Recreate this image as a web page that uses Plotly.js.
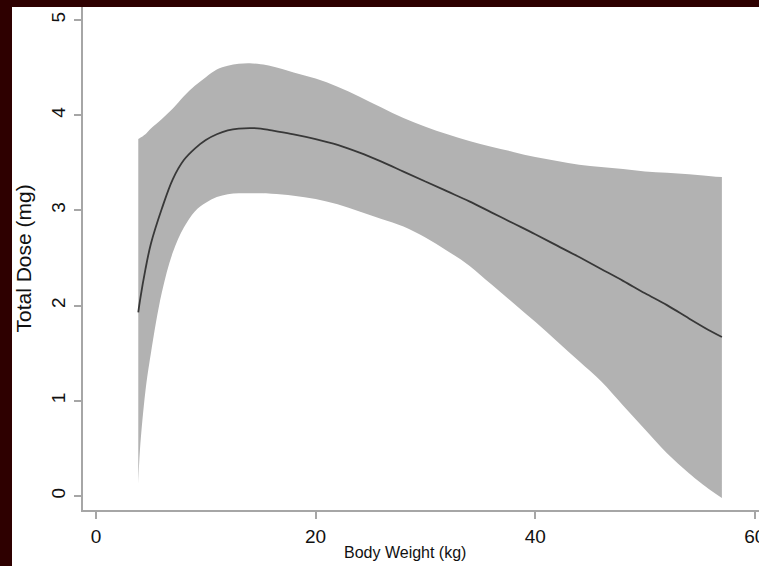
<!DOCTYPE html>
<html>
<head>
<meta charset="utf-8">
<script src="https://cdn.plot.ly/plotly-3.0.1.min.js"></script>
<style>
  html, body { margin: 0; padding: 0; background: #2e0000; width: 759px; height: 566px; overflow: hidden; }
  #chart { position: absolute; left: 12px; top: 7px; width: 747px; height: 559px; background: #ffffff; }
</style>
</head>
<body>
<div id="chart"></div>
<script>
// Body weight (kg)
const weight = [3.85, 4, 4.5, 5, 6, 7, 8, 9, 10, 11, 12, 13, 14, 15, 16, 18, 20, 22, 24, 26, 28, 30, 32, 34, 36, 38, 40, 42, 44, 46, 48, 50, 52, 54, 56, 57];
// Fitted total dose (mg)
const fitted = [1.93, 2.05, 2.38, 2.65, 3.02, 3.33, 3.53, 3.65, 3.74, 3.80, 3.84, 3.86, 3.865, 3.86, 3.84, 3.80, 3.75, 3.689, 3.607, 3.512, 3.408, 3.304, 3.20, 3.095, 2.98, 2.865, 2.75, 2.63, 2.51, 2.385, 2.26, 2.13, 2.005, 1.865, 1.73, 1.67];
// Upper confidence bound
const upper = [3.75, 3.76, 3.80, 3.86, 3.96, 4.07, 4.20, 4.31, 4.40, 4.48, 4.52, 4.54, 4.545, 4.535, 4.515, 4.45, 4.385, 4.30, 4.195, 4.08, 3.97, 3.88, 3.80, 3.73, 3.67, 3.615, 3.56, 3.52, 3.48, 3.457, 3.434, 3.41, 3.395, 3.38, 3.36, 3.35];
// Lower confidence bound
const lower = [0.13, 0.48, 1.10, 1.50, 2.14, 2.56, 2.82, 2.99, 3.08, 3.14, 3.17, 3.18, 3.18, 3.18, 3.175, 3.155, 3.12, 3.065, 2.99, 2.91, 2.83, 2.715, 2.575, 2.42, 2.224, 2.028, 1.83, 1.624, 1.416, 1.205, 0.951, 0.698, 0.449, 0.238, 0.057, -0.02];

const xTicks = [0, 20, 40, 60];
const yTicks = [0, 1, 2, 3, 4, 5];

const bandColor = '#b2b2b2';

const traces = [
  {
    x: weight, y: lower, type: 'scatter', mode: 'lines',
    line: { width: 0, color: bandColor, shape: 'spline', smoothing: 1 },
    hoverinfo: 'skip', showlegend: false
  },
  {
    x: weight, y: upper, type: 'scatter', mode: 'lines',
    fill: 'tonexty', fillcolor: bandColor,
    line: { width: 0, color: bandColor, shape: 'spline', smoothing: 1 },
    hoverinfo: 'skip', showlegend: false
  },
  {
    x: weight, y: fitted, type: 'scatter', mode: 'lines',
    line: { color: '#383838', width: 1.8, shape: 'spline', smoothing: 1 },
    showlegend: false
  }
];

const axisCommon = {
  showgrid: false, zeroline: false,
  showline: true, linecolor: '#a6a6a6', linewidth: 2,
  ticks: 'outside', ticklen: 7, tickwidth: 2, tickcolor: '#a6a6a6',
  ticklabeloverflow: 'allow',
  tickfont: { family: 'Liberation Sans, Arial, sans-serif', size: 19, color: '#111111' }
};

const layout = {
  width: 747, height: 559,
  margin: { l: 71, r: 0, t: 0, b: 56 },
  paper_bgcolor: '#ffffff', plot_bgcolor: '#ffffff',
  xaxis: Object.assign({}, axisCommon, {
    range: [-1.184, 60.38], tickvals: xTicks, ticktext: xTicks.map(String),
    ticklabelstandoff: 1
  }),
  yaxis: Object.assign({}, axisCommon, {
    range: [-0.147, 5.137], tickvals: yTicks, ticktext: yTicks.map(String),
    tickangle: -90, ticklabelstandoff: 1
  }),
  annotations: [
    {
      text: 'Body Weight (kg)', xref: 'paper', yref: 'paper',
      x: 0.4763, y: -0.0835, xanchor: 'center', yanchor: 'middle', showarrow: false,
      font: { family: 'Liberation Sans, Arial, sans-serif', size: 16, color: '#111111' }
    },
    {
      text: 'Total Dose (mg)', xref: 'paper', yref: 'paper', textangle: -90,
      x: -0.0873, y: 0.5, xanchor: 'center', yanchor: 'middle', showarrow: false,
      font: { family: 'Liberation Sans, Arial, sans-serif', size: 21, color: '#111111' }
    }
  ]
};

Plotly.newPlot('chart', traces, layout, { displayModeBar: false, staticPlot: true });
</script>
</body>
</html>
